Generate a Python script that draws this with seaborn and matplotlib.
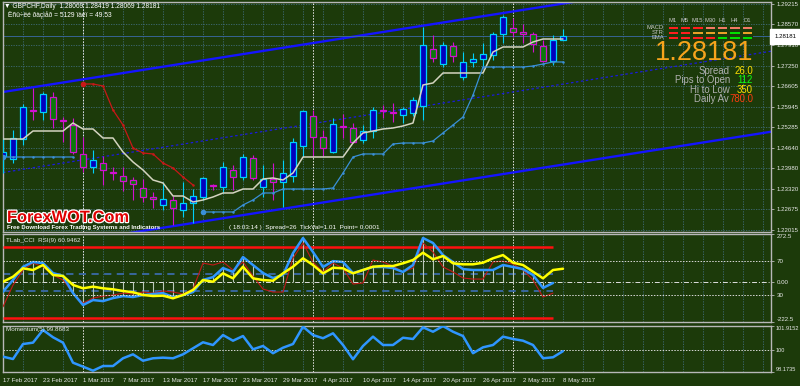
import numpy as np
import matplotlib
matplotlib.use("Agg")
import matplotlib.pyplot as plt
import matplotlib.patheffects as pe
from matplotlib.colors import ListedColormap
import seaborn as sns

# ---------------- data ----------------
header_line = "\u25bc GBPCHF,Daily  1.28069 1.28419 1.28069 1.28181"
info_line = "\u0401\u00f1\u00fc\u00f7\u00eb\u00e9 \u00f0\u00e0\u00e7\u00ec\u00e5\u00f0 = 5129 \u00ef\u00e0\u00e9\u00ef = 49.53"
date_labels = ["17 Feb 2017", "23 Feb 2017", "1 Mar 2017", "7 Mar 2017", "13 Mar 2017",
               "17 Mar 2017", "23 Mar 2017", "29 Mar 2017", "4 Apr 2017", "10 Apr 2017",
               "14 Apr 2017", "20 Apr 2017", "26 Apr 2017", "2 May 2017", "8 May 2017"]

open_p = [1.24372, 1.24276, 1.24913, 1.25837, 1.25774, 1.26252, 1.25519, 1.25359, 1.24436, 1.24021,
          1.24149, 1.23846, 1.23735, 1.23607, 1.23352, 1.23066, 1.22811, 1.22970, 1.22651, 1.22874,
          1.23066, 1.23432, 1.23384, 1.23926, 1.23703, 1.24308, 1.23384, 1.23639, 1.23543, 1.23735,
          1.24690, 1.25646, 1.24977, 1.24499, 1.25312, 1.25264, 1.24882, 1.25168, 1.25822, 1.25758,
          1.25678, 1.25742, 1.25965, 1.27781, 1.27303, 1.27876, 1.26889, 1.27367, 1.27462, 1.27590,
          1.28259, 1.28450, 1.28322, 1.28259, 1.27876, 1.27399, 1.28069]
high_p = [1.24945, 1.25200, 1.26029, 1.26538, 1.26411, 1.26411, 1.25614, 1.25583, 1.24977, 1.24563,
          1.24372, 1.24021, 1.24021, 1.23703, 1.23639, 1.23225, 1.23543, 1.23097, 1.23543, 1.23320,
          1.23703, 1.23480, 1.24181, 1.24085, 1.24436, 1.24404, 1.24085, 1.24149, 1.24244, 1.24945,
          1.25837, 1.25837, 1.25200, 1.25583, 1.25710, 1.25423, 1.25359, 1.25933, 1.25997, 1.26060,
          1.25933, 1.26252, 1.28482, 1.28227, 1.28004, 1.28004, 1.27685, 1.27653, 1.27972, 1.28322,
          1.28864, 1.28769, 1.28577, 1.28322, 1.28068, 1.28227, 1.28419]
low_p = [1.23830, 1.24149, 1.24722, 1.25519, 1.25519, 1.25264, 1.24818, 1.24436, 1.23862, 1.23830,
         1.23448, 1.23607, 1.23257, 1.22970, 1.22906, 1.22715, 1.22651, 1.22173, 1.22428, 1.22237,
         1.22970, 1.23289, 1.23193, 1.23289, 1.23607, 1.23607, 1.23066, 1.22970, 1.22747, 1.23543,
         1.24340, 1.24340, 1.24372, 1.24467, 1.24945, 1.24786, 1.24786, 1.24945, 1.25583, 1.25455,
         1.25423, 1.25646, 1.25519, 1.27367, 1.27207, 1.27367, 1.26793, 1.27207, 1.27207, 1.27430,
         1.27972, 1.28163, 1.27972, 1.27685, 1.27367, 1.27271, 1.28069]
close_p = [1.24499, 1.24945, 1.25933, 1.25806, 1.26347, 1.25551, 1.25487, 1.24499, 1.24021, 1.24244,
           1.23926, 1.23814, 1.23575, 1.23480, 1.23066, 1.22986, 1.23002, 1.22715, 1.22874, 1.23097,
           1.23671, 1.23400, 1.24021, 1.23703, 1.24340, 1.23671, 1.23639, 1.23543, 1.23830, 1.24818,
           1.25806, 1.24977, 1.24627, 1.25391, 1.25280, 1.24818, 1.25168, 1.25837, 1.25790, 1.25726,
           1.25869, 1.26156, 1.27908, 1.27494, 1.27908, 1.27558, 1.27367, 1.27462, 1.27622, 1.28259,
           1.28800, 1.28322, 1.28259, 1.27940, 1.27399, 1.28068, 1.28181]

mid_line = [1.24913, 1.24913, 1.24913, 1.25168, 1.25168, 1.25168, 1.25168, 1.25423, 1.25232, 1.25232,
            1.24945, 1.24945, 1.24499, 1.24181, 1.23926, 1.23607, 1.23512, 1.23097, 1.23097, 1.22906,
            1.22970, 1.23066, 1.23193, 1.23193, 1.23320, 1.23320, 1.23639, 1.23671, 1.23607, 1.23830,
            1.24340, 1.24340, 1.24340, 1.24340, 1.24340, 1.24786, 1.25105, 1.25168, 1.25232, 1.25264,
            1.25328, 1.25423, 1.26634, 1.26698, 1.27016, 1.27016, 1.27016, 1.27016, 1.27016, 1.27685,
            1.27845, 1.27845, 1.27845, 1.28004, 1.28099, 1.28099, 1.28099]
stop_long = [1.24340, 1.24340, 1.24340, 1.24340, 1.24340, 1.24340, 1.24340, 1.24340, None, None,
             None, None, None, None, None, None, None, None, None, None,
             1.22588, 1.22588, 1.22588, 1.22588, 1.22811, 1.22970, 1.23193, 1.23193, 1.23320, 1.23320,
             1.23320, 1.23320, 1.23320, 1.23352, 1.23830, 1.24340, 1.24436, 1.24436, 1.24436, 1.24754,
             1.24786, 1.24786, 1.24786, 1.24850, 1.25105, 1.25359, 1.25614, 1.26315, 1.27207, 1.27207,
             1.27207, 1.27207, 1.27207, 1.27239, 1.27303, 1.27367, 1.27367]
stop_short = [None, None, None, None, None, None, None, None, 1.26666, 1.26666,
              1.26602, 1.25837, 1.25359, 1.24627, 1.24467, 1.24436, 1.24149, 1.23989, 1.23703, 1.23448,
              None, None, None, None, None, None, None, None, None, None,
              None, None, None, None, None, None, None, None, None, None,
              None, None, None, None, None, None, None, None, None, None,
              None, None, None, None, None, None, None]
channel_bars = [0, 77]
channel_upper = [1.26411, 1.30284]
channel_mid = [1.23846, 1.27719]
channel_lower = [1.21281, 1.25154]

cci = [-52, 14, 88, 115, 109, 53, 36, -60, -127, -99,
       -105, -88, -77, -82, -71, -65, -60, -82, -71, -54,
       14, 30, 81, 59, 143, 98, 53, 25, 42, 165,
       250, 171, 87, 120, 115, 53, 70, 87, 87, 81,
       59, 98, 250, 222, 154, 115, 75, 70, 70, 70,
       98, 87, 75, 42, -31, -3]
cci_fast = [-137, -15, 70, 109, 88, 42, 14, -60, -116, -88,
            -77, -71, -60, -65, -54, -60, -48, -54, -65, -37,
            109, 98, 115, 70, 115, 36, -37, -54, -54, 137,
            222, 115, 59, 109, 81, -9, -3, 126, 115, 92,
            59, 81, 222, 171, 87, 59, 25, 19, 19, 115,
            120, 104, 70, 14, -82, -60]
rsi = [45.6, 51.5, 61.4, 59.4, 65.3, 53.5, 52.4, 41.8, 37.9, 39.8,
       37.9, 36.7, 34.7, 33.2, 30.0, 28.8, 29.2, 26.1, 30.0, 35.9,
       47.6, 45.6, 55.5, 49.6, 63.3, 49.6, 47.6, 46.8, 55.5, 63.3,
       73.2, 65.3, 55.5, 62.1, 61.4, 55.5, 59.4, 63.3, 64.1, 64.1,
       67.3, 71.2, 79.8, 72.0, 75.9, 67.3, 66.1, 66.1, 68.0, 73.2,
       77.0, 68.0, 65.3, 57.4, 49.6, 59.4, 60.9]
momentum = [99.42, 99.23, 100.45, 100.56, 101.59, 101.00, 100.56, 98.93, 98.61, 98.28,
            98.66, 98.66, 99.29, 99.61, 99.09, 99.29, 99.34, 99.29, 99.61, 100.10,
            100.59, 100.37, 101.18, 100.72, 101.10, 100.02, 100.29, 99.70, 100.15, 100.45,
            101.86, 101.18, 100.92, 101.32, 100.37, 99.21, 100.29, 101.05, 100.37, 100.37,
            100.96, 100.86, 101.81, 101.45, 101.91, 101.45, 101.10, 99.70, 100.18, 100.37,
            101.05, 100.86, 100.72, 100.37, 99.29, 99.37, 99.87]

price_ticks = [1.29215, 1.28570, 1.27910, 1.27250, 1.26605, 1.25945, 1.25285, 1.24640,
               1.23980, 1.23320, 1.22675, 1.22015]
price_range = [1.21950, 1.29278]
cci_ticks = [272.5, 0.0, -222.5]
cci_tick_labels = ["272.5", "0.00", "-222.5"]
cci_bands = [200, -200]
cci_inner = [50, -50]
rsi_levels = [70, 30]
rsi_range = [-1.8, 101.8]
mom_ticks = [101.9152, 100.0, 98.1735]
mom_tick_labels = ["101.9152", "100", "98.1735"]
month_starts = [8, 31, 51]

timeframes = ["M1", "M5", "M15", "M30", "H1", "H4", "D1"]
signal_rows = ["MACD", "STR", "EMA"]
signals = [[0, 0, 0, 1, 1, 1, 1],
           [0, 0, 2, 2, 2, 3, 2],
           [0, 0, 0, 0, 3, 3, 3]]
last_price = "1.28181"
stat_labels = ["Spread", "Pips to Open", "Hi to Low", "Daily Av"]
stat_values = ["26.0", "112", "350", "780.0"]
stat_colors = ["#ffe000", "#10ff10", "#ffe000", "#ff3c10"]

# ---------------- style ----------------
sns.set_style("dark")
plt.rcParams["font.family"] = ["Liberation Sans", "DejaVu Sans"]
BG = "#1c3a0a"
GRID = "#3f6a78"
BORDER = "#b8b8b8"
TXT = "#e8e8e8"

W, H = 800, 386
n = len(close_p)
x = np.arange(n)


def rect(x0, y0, x1, y1):
    return [x0 / W, 1 - y1 / H, (x1 - x0) / W, (y1 - y0) / H]


def right_ticks(a, size=4.4, pad=1.5):
    a.yaxis.tick_right()
    a.tick_params(axis="y", colors=BORDER, labelcolor=TXT, labelsize=size,
                  length=2.5, width=0.6, pad=pad, direction="out",
                  left=False, labelleft=False, right=True, labelright=True)


fig = plt.figure(figsize=(W / 100, H / 100), dpi=100, facecolor=BG)
ax = fig.add_axes(rect(3, 2, 771, 232))
ax_c = fig.add_axes(rect(3, 234, 771, 322))
ax_m = fig.add_axes(rect(3, 326, 771, 372))

for a in (ax, ax_c, ax_m):
    a.set_facecolor(BG)
    a.set_xlim(0, 76.8)
    for s in a.spines.values():
        s.set_color(BORDER)
        s.set_linewidth(1.0)
    right_ticks(a)
    a.set_xticks(np.arange(0, 78, 2), minor=True)
    a.grid(False)
    a.grid(axis="x", which="minor", color=GRID, linestyle=(0, (1.5, 1.5)), linewidth=0.6)
    a.tick_params(axis="x", which="minor", length=0)
    for m in month_starts:
        a.axvline(m, color="#e8e8e8", linewidth=0.7, linestyle=(0, (1.5, 1.5)), zorder=1.5)

# ---- main price panel ----
ax.set_ylim(*price_range)
ax.set_yticks(price_ticks)
ax.set_yticklabels([f"{p:.5f}" for p in price_ticks])
ax.grid(axis="y", which="major", color=GRID, linestyle=(0, (1.5, 1.5)), linewidth=0.6)
ax.set_xticks([])

o = np.array(open_p); c = np.array(close_p); h = np.array(high_p); l = np.array(low_p)
bull = c > o
edge = np.where(bull, "#00d0f8", "#d010d0")
face = np.where(bull, "#0000c0", "#0a7a0a")
ax.vlines(x, l, h, colors=edge, linewidth=0.8, zorder=3)
body_h = np.maximum(np.abs(c - o), 0.00012)
ax.bar(x, body_h, bottom=np.minimum(o, c), width=0.62, color=face, edgecolor=edge,
       linewidth=0.9, zorder=4)

ax.plot(channel_bars, channel_upper, color="#1414ff", linewidth=1.7, zorder=2)
ax.plot(channel_bars, channel_lower, color="#1414ff", linewidth=1.7, zorder=2)
ax.plot(channel_bars, channel_mid, color="#1a1ae0", linewidth=0.9, linestyle=(0, (2, 2)), zorder=2)
ax.axhline(close_p[-1], color="#3c6aa8", linewidth=0.6, zorder=2)

sns.lineplot(x=x, y=mid_line, ax=ax, color="#d4d4c0", linewidth=1.1, estimator=None,
             sort=False, zorder=5)
for series, col in ((stop_long, "#3a90d8"), (stop_short, "#c81818")):
    arr = np.array([np.nan if v is None else v for v in series], dtype=float)
    ax.plot(x, arr, color=col, linewidth=0.9, marker="o", markersize=1.8,
            markeredgewidth=0, zorder=5)
    valid = ~np.isnan(arr)
    starts = np.where(valid & ~np.r_[False, valid[:-1]])[0]
    ax.plot(starts, arr[starts], "o", color=col, markersize=4, markeredgewidth=0, zorder=6)

# ---- CCI / RSI panel ----
ax_c.set_ylim(cci_ticks[2], cci_ticks[0])
ax_c.set_xticks([])
xc = np.arange(len(cci))
ax_c.hlines(cci_bands, 0, len(cci) - 1, colors="#ff1010", linewidth=1.8, zorder=3)
ax_c.hlines(cci_inner, 0, len(cci) - 1, colors="#3a6aa8", linewidth=1.3,
            linestyles=(0, (4, 3)), zorder=2)
ax_c.axhline(0, color="#e0e0e0", linewidth=0.7, linestyle=(0, (5, 2, 1, 2)), zorder=2)
ax_c.vlines(xc, 0, cci, colors="#b8c8b8", linewidth=0.8, zorder=3)
sns.lineplot(x=xc, y=cci_fast, ax=ax_c, color="#c01818", linewidth=0.8, estimator=None,
             sort=False, zorder=4)
sns.lineplot(x=xc, y=cci, ax=ax_c, color="#2f96ff", linewidth=1.8, estimator=None,
             sort=False, zorder=5)
ax_r = ax_c.twinx()
ax_r.set_ylim(*rsi_range)
ax_r.set_xlim(0, 76.8)
for s in ax_r.spines.values():
    s.set_visible(False)
ax_r.grid(False)
for lv in rsi_levels:
    ax_r.axhline(lv, color="#d8d8d8", linewidth=0.7, linestyle=(0, (1.5, 1.5)), zorder=2)
sns.lineplot(x=x, y=rsi, ax=ax_r, color="#ffff00", linewidth=1.8, estimator=None,
             sort=False, zorder=6)
# tick labels (after twinx, which moves the host ticks to the left)
right_ticks(ax_c)
ax_c.set_yticks(cci_ticks)
ax_c.set_yticklabels(cci_tick_labels)
labs = ax_c.get_yticklabels()
labs[0].set_va("top"); labs[2].set_va("bottom")
right_ticks(ax_r)
ax_r.set_yticks(rsi_levels)
ax_r.set_yticklabels([str(v) for v in rsi_levels])

# ---- Momentum panel ----
ax_m.set_ylim(mom_ticks[2], mom_ticks[0])
right_ticks(ax_m, size=4.1, pad=1.0)
ax_m.set_yticks(mom_ticks)
ax_m.set_yticklabels(mom_tick_labels)
labs = ax_m.get_yticklabels()
labs[0].set_va("top"); labs[2].set_va("bottom")
ax_m.axhline(100, color="#d8d8d8", linewidth=0.7, linestyle=(0, (1.5, 1.5)), zorder=2)
sns.lineplot(x=x, y=momentum, ax=ax_m, color="#2f96ff", linewidth=1.8, estimator=None,
             sort=False, zorder=5)
ax_m.set_xticks(np.arange(0, n, 4))
ax_m.set_xticklabels(date_labels, ha="left")
ax_m.tick_params(axis="x", which="major", colors=BORDER, labelcolor=TXT, labelsize=4.4,
                 length=2.5, width=0.6, pad=2, direction="out")

for a in (ax, ax_c, ax_m, ax_r):
    a.set_xlabel(""); a.set_ylabel("")

# ---- signal matrix (heatmap) ----
ax_s = fig.add_axes(rect(666.5, 25.0, 753.0, 40.2))
sns.heatmap(signals, ax=ax_s, cmap=ListedColormap(["#ff1e1e", "#f07a66", "#e8a028", "#00e000"]),
            vmin=-0.5, vmax=3.5, cbar=False, linewidths=0.8, linecolor=BG,
            xticklabels=False, yticklabels=False)

# ---- overlay texts ----
ov = fig.add_axes([0, 0, 1, 1])
ov.set_xlim(0, W); ov.set_ylim(H, 0); ov.axis("off"); ov.patch.set_alpha(0)

ov.text(4, 6.5, header_line, color="white", fontsize=4.8, va="center", ha="left")
ov.text(8, 15.5, info_line, color="white", fontsize=4.8, va="center", ha="left")
ov.text(6, 240.5, "TLab_CCI  RSI(9) 60.9462", color=TXT, fontsize=4.5, va="center")
ov.text(6, 330, "Momentum(5) 99.8683", color=TXT, fontsize=4.5, va="center")

for j, tf in enumerate(timeframes):
    ov.text(666.5 + 12.36 * (j + 0.5), 20, tf, color="#c8c8c8", fontsize=4.2, ha="center", va="center")
for i, r in enumerate(signal_rows):
    ov.text(664, 27.5 + 5 * i, r, color="#c8c8c8", fontsize=4.2, ha="right", va="center")

ov.text(753, 53, last_price, color="#f7a41c", fontsize=19.5, ha="right", va="center")
for i, (lab, val, col) in enumerate(zip(stat_labels, stat_values, stat_colors)):
    yy = 71 + 9.4 * i
    ov.text(730 if i < 3 else 729, yy, lab, color="#b0b0b0", fontsize=6.9, ha="right", va="center")
    ov.text(753, yy, val, color=col, fontsize=6.9, ha="right", va="center")

ov.text(7, 217.5, "ForexWOT.Com", color="#e00000", fontsize=11.8, fontweight="bold",
        ha="left", va="center",
        path_effects=[pe.withStroke(linewidth=1.8, foreground="white")])
ov.text(7, 227.5, "Free Download Forex Trading Systems and Indicators", color="white",
        fontsize=4.3, fontweight="bold", ha="left", va="center")
ov.text(229, 227.5, "( 18:03:14 )  Spread=26  TickVal=1.01  Point= 0.0001", color="white",
        fontsize=4.6, ha="left", va="center")

ov.text(775, 36.5, last_price, color="black", fontsize=4.4, ha="left", va="center",
        bbox=dict(facecolor="white", edgecolor="white", pad=0.8, boxstyle="square"))

fig.savefig("out.png", dpi=100, facecolor=BG)
